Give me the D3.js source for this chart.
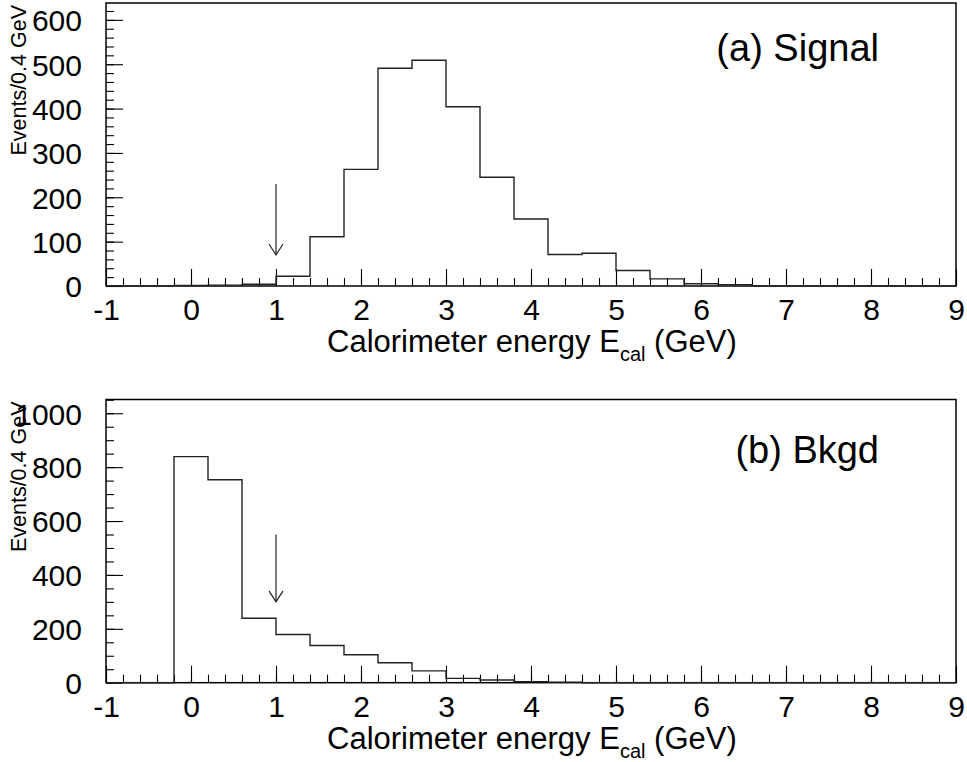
<!DOCTYPE html>
<html>
<head>
<meta charset="utf-8">
<script src="https://cdn.jsdelivr.net/npm/d3@7"></script>
<style>
  html, body { margin: 0; padding: 0; background: #fff; }
  svg { display: block; }
  text { font-family: "Liberation Sans", Arial, Helvetica, sans-serif; fill: #000; }
</style>
</head>
<body>
<svg id="chart" width="967" height="762"></svg>
<script>
// ---------------- data ----------------
const binLowEdges = [-1.0, -0.6, -0.2, 0.2, 0.6, 1.0, 1.4, 1.8, 2.2, 2.6, 3.0, 3.4, 3.8,
                     4.2, 4.6, 5.0, 5.4, 5.8, 6.2, 6.6, 7.0, 7.4, 7.8, 8.2, 8.6];
const binHighEdge = 9.0;
const signalCounts = [0, 0, 1, 2, 4, 22, 111, 263, 491, 509, 404, 245, 151,
                      71, 74, 35, 16, 5, 3, 0, 0, 0, 0, 0, 0];
const bkgdCounts   = [0, 0, 839, 753, 239, 179, 138, 104, 74, 44, 16, 10, 4,
                      2, 0, 0, 0, 0, 0, 0, 0, 0, 0, 0, 0];
const xTickLabels = [-1, 0, 1, 2, 3, 4, 5, 6, 7, 8, 9];
const signalYTicks = [0, 100, 200, 300, 400, 500, 600];
const bkgdYTicks = [0, 200, 400, 600, 800, 1000];
const cutValue = 1;
const signalArrow = [230, 70];   // from, to (events)
const bkgdArrow = [550, 300];
const panelLabels = ["(a) Signal", "(b) Bkgd"];
const yTitle = "Events/0.4 GeV";

// ---------------- layout ----------------
const svg = d3.select("#chart");
const left = 106, right = 956;
const x = d3.scaleLinear().domain([-1, 9]).range([left, right]);
const plainFmt = d => String(d);

const panels = [
  { counts: signalCounts, yMax: 638, top: 3, bottom: 286, majors: signalYTicks, minorStep: 20,
    arrow: signalArrow, label: panelLabels[0], labelY: 61 },
  { counts: bkgdCounts, yMax: 1051, top: 399.5, bottom: 682.7, majors: bkgdYTicks, minorStep: 50,
    arrow: bkgdArrow, label: panelLabels[1], labelY: 463 }
];

const xMinor = d3.range(-1, 9.0001, 0.2).map(v => +v.toFixed(2));

panels.forEach(p => {
  const y = d3.scaleLinear().domain([0, p.yMax]).range([p.bottom, p.top]);
  const g = svg.append("g");

  // frame
  g.append("rect")
    .attr("x", left).attr("y", p.top)
    .attr("width", right - left).attr("height", p.bottom - p.top)
    .attr("fill", "none").attr("stroke", "#000").attr("stroke-width", 1.5);

  // x minor ticks
  const xMinorAxis = d3.axisBottom(x).tickValues(xMinor).tickSize(-8).tickFormat("");
  const gxm = g.append("g").attr("transform", `translate(0,${p.bottom})`).call(xMinorAxis);
  // x major ticks
  const xAxis = d3.axisBottom(x).tickValues(xTickLabels).tickSize(-17).tickFormat(plainFmt);
  const gx = g.append("g").attr("transform", `translate(0,${p.bottom})`).call(xAxis);
  gx.selectAll("text").attr("y", 34).attr("dy", null)
    .style("font-size", "30px").style("font-family", "Liberation Sans, Arial, sans-serif");

  // y minor ticks
  const yMinor = d3.range(0, p.yMax, p.minorStep);
  const yMinorAxis = d3.axisLeft(y).tickValues(yMinor).tickSize(-8).tickFormat("");
  const gym = g.append("g").attr("transform", `translate(${left},0)`).call(yMinorAxis);
  // y major ticks
  const yAxis = d3.axisLeft(y).tickValues(p.majors).tickSize(-17).tickFormat(plainFmt);
  const gy = g.append("g").attr("transform", `translate(${left},0)`).call(yAxis);
  gy.selectAll("text").attr("x", -24).attr("dy", "0.36em")
    .style("font-size", "30px").style("font-family", "Liberation Sans, Arial, sans-serif");

  [gxm, gx, gym, gy].forEach(a => {
    a.select(".domain").remove();
    a.selectAll(".tick line").attr("stroke", "#000").attr("stroke-width", 1.1);
  });

  // histogram outline
  const pts = binLowEdges.map((e, i) => [e, p.counts[i]]);
  pts.push([binHighEdge, p.counts[p.counts.length - 1]]);
  const line = d3.line().x(d => x(d[0])).y(d => y(d[1])).curve(d3.curveStepAfter);
  g.append("path").attr("d", line(pts))
    .attr("fill", "none").attr("stroke", "#222").attr("stroke-width", 1.4);

  // arrow at the cut
  const ax = x(cutValue), y0 = y(p.arrow[0]), y1 = y(p.arrow[1]);
  g.append("line").attr("x1", ax).attr("x2", ax).attr("y1", y0).attr("y2", y1)
    .attr("stroke", "#222").attr("stroke-width", 1.2);
  g.append("path").attr("d", `M${ax - 7},${y1 - 11}L${ax},${y1}L${ax + 7},${y1 - 11}`)
    .attr("fill", "none").attr("stroke", "#222").attr("stroke-width", 1.2);

  // panel label
  g.append("text").attr("x", 879).attr("y", p.labelY).attr("text-anchor", "end")
    .style("font-size", "38px").text(p.label);

  // x title
  const t = g.append("text").attr("x", 327).attr("y", p.bottom + 66).style("font-size", "31px");
  t.append("tspan").text("Calorimeter energy E");
  t.append("tspan").attr("dy", 9).style("font-size", "20px").text("cal");
  t.append("tspan").attr("dy", -9).text(" (GeV)");

  // y title
  g.append("text").attr("transform", `translate(26,${p.top + 2}) rotate(-90)`)
    .attr("text-anchor", "end").style("font-size", "21.5px").text(yTitle);
});
</script>
</body>
</html>
